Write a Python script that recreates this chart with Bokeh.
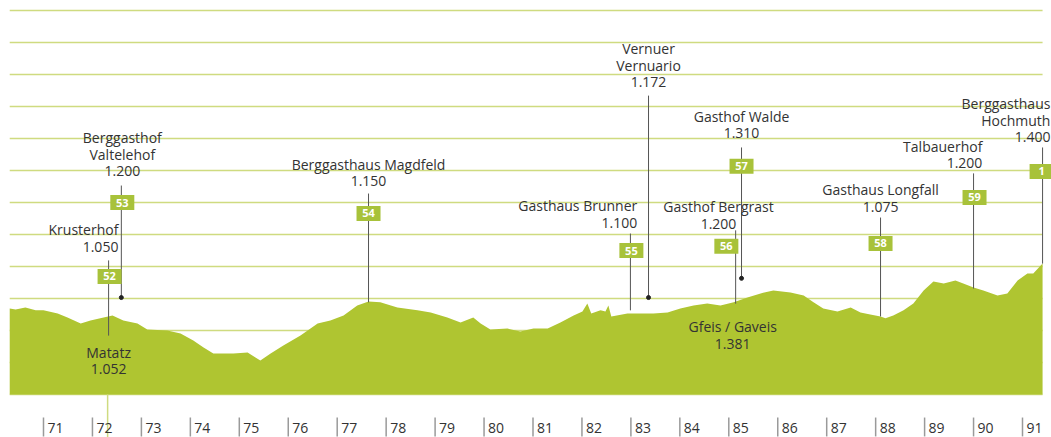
from bokeh.plotting import figure
from bokeh.models import Range1d, ColumnDataSource
from bokeh.core.properties import value
from bokeh.embed import file_html
from bokeh.resources import INLINE

# ---------------- data ----------------
# elevation profile: distance (km) and altitude (m)
profile_km = [70.31, 70.43, 70.63, 70.84, 71.00, 71.29, 71.49, 71.76, 71.96, 72.16,
              72.41, 72.63, 72.92, 73.12, 73.53, 73.80, 74.06, 74.27, 74.47, 74.88,
              75.17, 75.33, 75.43, 75.64, 75.90, 76.25, 76.60, 76.86, 77.13, 77.41,
              77.64, 77.88, 78.23, 78.64, 78.91, 79.25, 79.52, 79.78, 79.93, 80.13,
              80.48, 80.74, 81.01, 81.30, 81.56, 81.83, 82.01, 82.11, 82.19, 82.38,
              82.48, 82.54, 82.60, 82.93, 83.20, 83.46, 83.75, 84.01, 84.28, 84.56,
              84.83, 85.10, 85.38, 85.65, 85.91, 86.26, 86.53, 86.73, 86.93, 87.22,
              87.49, 87.69, 87.89, 88.10, 88.20, 88.36, 88.57, 88.77, 88.98, 89.18,
              89.39, 89.63, 89.79, 90.00, 90.20, 90.49, 90.69, 90.90, 91.10, 91.22,
              91.41]
profile_alt = [1069, 1066, 1072, 1063, 1063, 1053, 1041, 1022, 1031, 1038,
               1047, 1031, 1022, 1003, 1000, 991, 969, 947, 928, 928,
               931, 916, 906, 928, 953, 984, 1022, 1031, 1047, 1078,
               1091, 1088, 1072, 1063, 1056, 1041, 1025, 1041, 1022, 1003,
               1006, 997, 1006, 1006, 1025, 1047, 1059, 1084, 1053, 1063,
               1059, 1078, 1044, 1053, 1053, 1053, 1056, 1069, 1078, 1084,
               1078, 1088, 1103, 1116, 1125, 1119, 1109, 1088, 1069, 1059,
               1072, 1056, 1050, 1044, 1038, 1047, 1063, 1084, 1125, 1153,
               1147, 1156, 1147, 1134, 1125, 1109, 1116, 1156, 1178, 1178,
               1209]
base_alt = 800

km_ticks = list(range(71, 92))
km_labels = [str(k) for k in km_ticks]
alt_grid = list(range(800, 2001, 100))

# points of interest
poi_names = ["Krusterhof", "Berggasthof\nValtelehof", "Berggasthaus Magdfeld",
             "Gasthaus Brunner", "Vernuer\nVernuario", "Gasthof Bergrast",
             "Gasthof Walde", "Gasthaus Longfall", "Talbauerhof",
             "Berggasthaus\nHochmuth", "Matatz", "Gfeis / Gaveis"]
poi_alt_labels = ["1.050", "1.200", "1.150", "1.100", "1.172", "1.200",
                  "1.310", "1.075", "1.200", "1.400", "1.052", "1.381"]
poi_km = [72.33, 72.59, 77.64, 82.99, 83.36, 85.14, 85.26, 88.10, 90.00, 91.41,
          72.33, 85.08]
stage_numbers = ["52", "53", "54", "55", "", "56", "57", "58", "59", "1", "", ""]

# ---------------- layout (label placement) ----------------
pole_top = [1219, 1453, 1428, 1303, 1734, 1313, 1572, 1353, 1491, 1572, None, None]
pole_bottom = [984, 1103, 1088, 1063, 1103, 1084, 1163, 1044, 1131, 1209, None, None]
pole_dot = [False, True, False, False, True, False, True, False, False, False, False, False]
box_dx = [0.02, 0.02, 0.0, 0.02, 0, -0.19, 0.0, 0.0, 0.02, -0.02, 0, 0]
box_alt = [1169, 1400, 1366, 1250, None, 1263, 1513, 1272, 1416, 1497, None, None]
label_dx = [0.20, 0.02, 0.0, 0.14, 0.0, -0.35, 0.0, 0.0, 0.18, 0.16, 0.0, 0.0]
label_alt = [1234, 1469, 1438, 1309, 1747, 1306, 1588, 1359, 1494, 1575, 850, 931]
label_align = ["right", "center", "center", "right", "center", "center",
               "center", "center", "right", "right", "center", "center"]

TXT = "#333333"
GREEN = "#afc531"
BOX = "#a8c23a"
GRID = "#cfdb80"
FONT = "Open Sans"

p = figure(width=1051, height=437, output_backend="svg", toolbar_location=None,
           x_range=Range1d(70.1216, 91.5924), y_range=Range1d(665.625, 2031.25),
           x_axis_location=None, y_axis_location=None, min_border=0,
           outline_line_color=None, background_fill_color="white",
           border_fill_color="white")
p.grid.visible = False

# horizontal altitude lines spanning the profile
g0, g1 = profile_km[0], profile_km[-1]
p.segment(x0=[g0] * len(alt_grid), y0=alt_grid, x1=[g1] * len(alt_grid), y1=alt_grid,
          line_color=GRID, line_width=1.5)

# elevation fill
p.varea(x=profile_km, y1=[base_alt] * len(profile_km), y2=profile_alt,
        fill_color=GREEN)

# Matatz marker below the profile
p.segment(x0=[poi_km[10] - 0.02], y0=[base_alt], x1=[poi_km[10] - 0.02], y1=[665.625],
          line_color=GRID, line_width=1.5)

# poles
idx = [i for i in range(len(poi_names)) if pole_top[i] is not None]
p.segment(x0=[poi_km[i] for i in idx], y0=[pole_top[i] for i in idx],
          x1=[poi_km[i] for i in idx], y1=[pole_bottom[i] for i in idx],
          line_color="#555555", line_width=1)
dots = [i for i in idx if pole_dot[i]]
p.scatter(x=[poi_km[i] for i in dots], y=[pole_bottom[i] for i in dots],
          size=4, color="#222222")

# stage number boxes
bidx = [i for i in range(len(poi_names)) if stage_numbers[i]]
bsrc = ColumnDataSource(dict(x=[poi_km[i] + box_dx[i] for i in bidx],
                             y=[box_alt[i] for i in bidx],
                             t=[stage_numbers[i] for i in bidx]))
p.rect(x="x", y="y", width=24, height=15, width_units="screen", height_units="screen",
       source=bsrc, fill_color=BOX, line_color=None)
p.text(x="x", y="y", text="t", source=bsrc, text_align="center", text_baseline="middle",
       text_color="white", text_font=value(FONT), text_font_style="bold",
       text_font_size="11px")

# labels
for al in ["left", "center", "right"]:
    li = [i for i in range(len(poi_names)) if label_align[i] == al]
    if not li:
        continue
    src = ColumnDataSource(dict(x=[poi_km[i] + label_dx[i] for i in li],
                                y=[label_alt[i] for i in li],
                                t=[poi_names[i] + "\n" + poi_alt_labels[i] for i in li]))
    p.text(x="x", y="y", text="t", source=src, text_align=al, text_baseline="bottom",
           text_color=TXT, text_font=value(FONT), text_font_size="14px",
           text_line_height=0.88)

# km axis
p.segment(x0=km_ticks, y0=[728] * len(km_ticks), x1=km_ticks, y1=[669] * len(km_ticks),
          line_color="#9a9a9a", line_width=1.5)
p.text(x=km_ticks, y=[694] * len(km_ticks), text=km_labels, x_offset=4,
       text_align="left", text_baseline="middle", text_color=TXT,
       text_font=value(FONT), text_font_size="14px")

open("out.html", "w").write(file_html(p, INLINE))
